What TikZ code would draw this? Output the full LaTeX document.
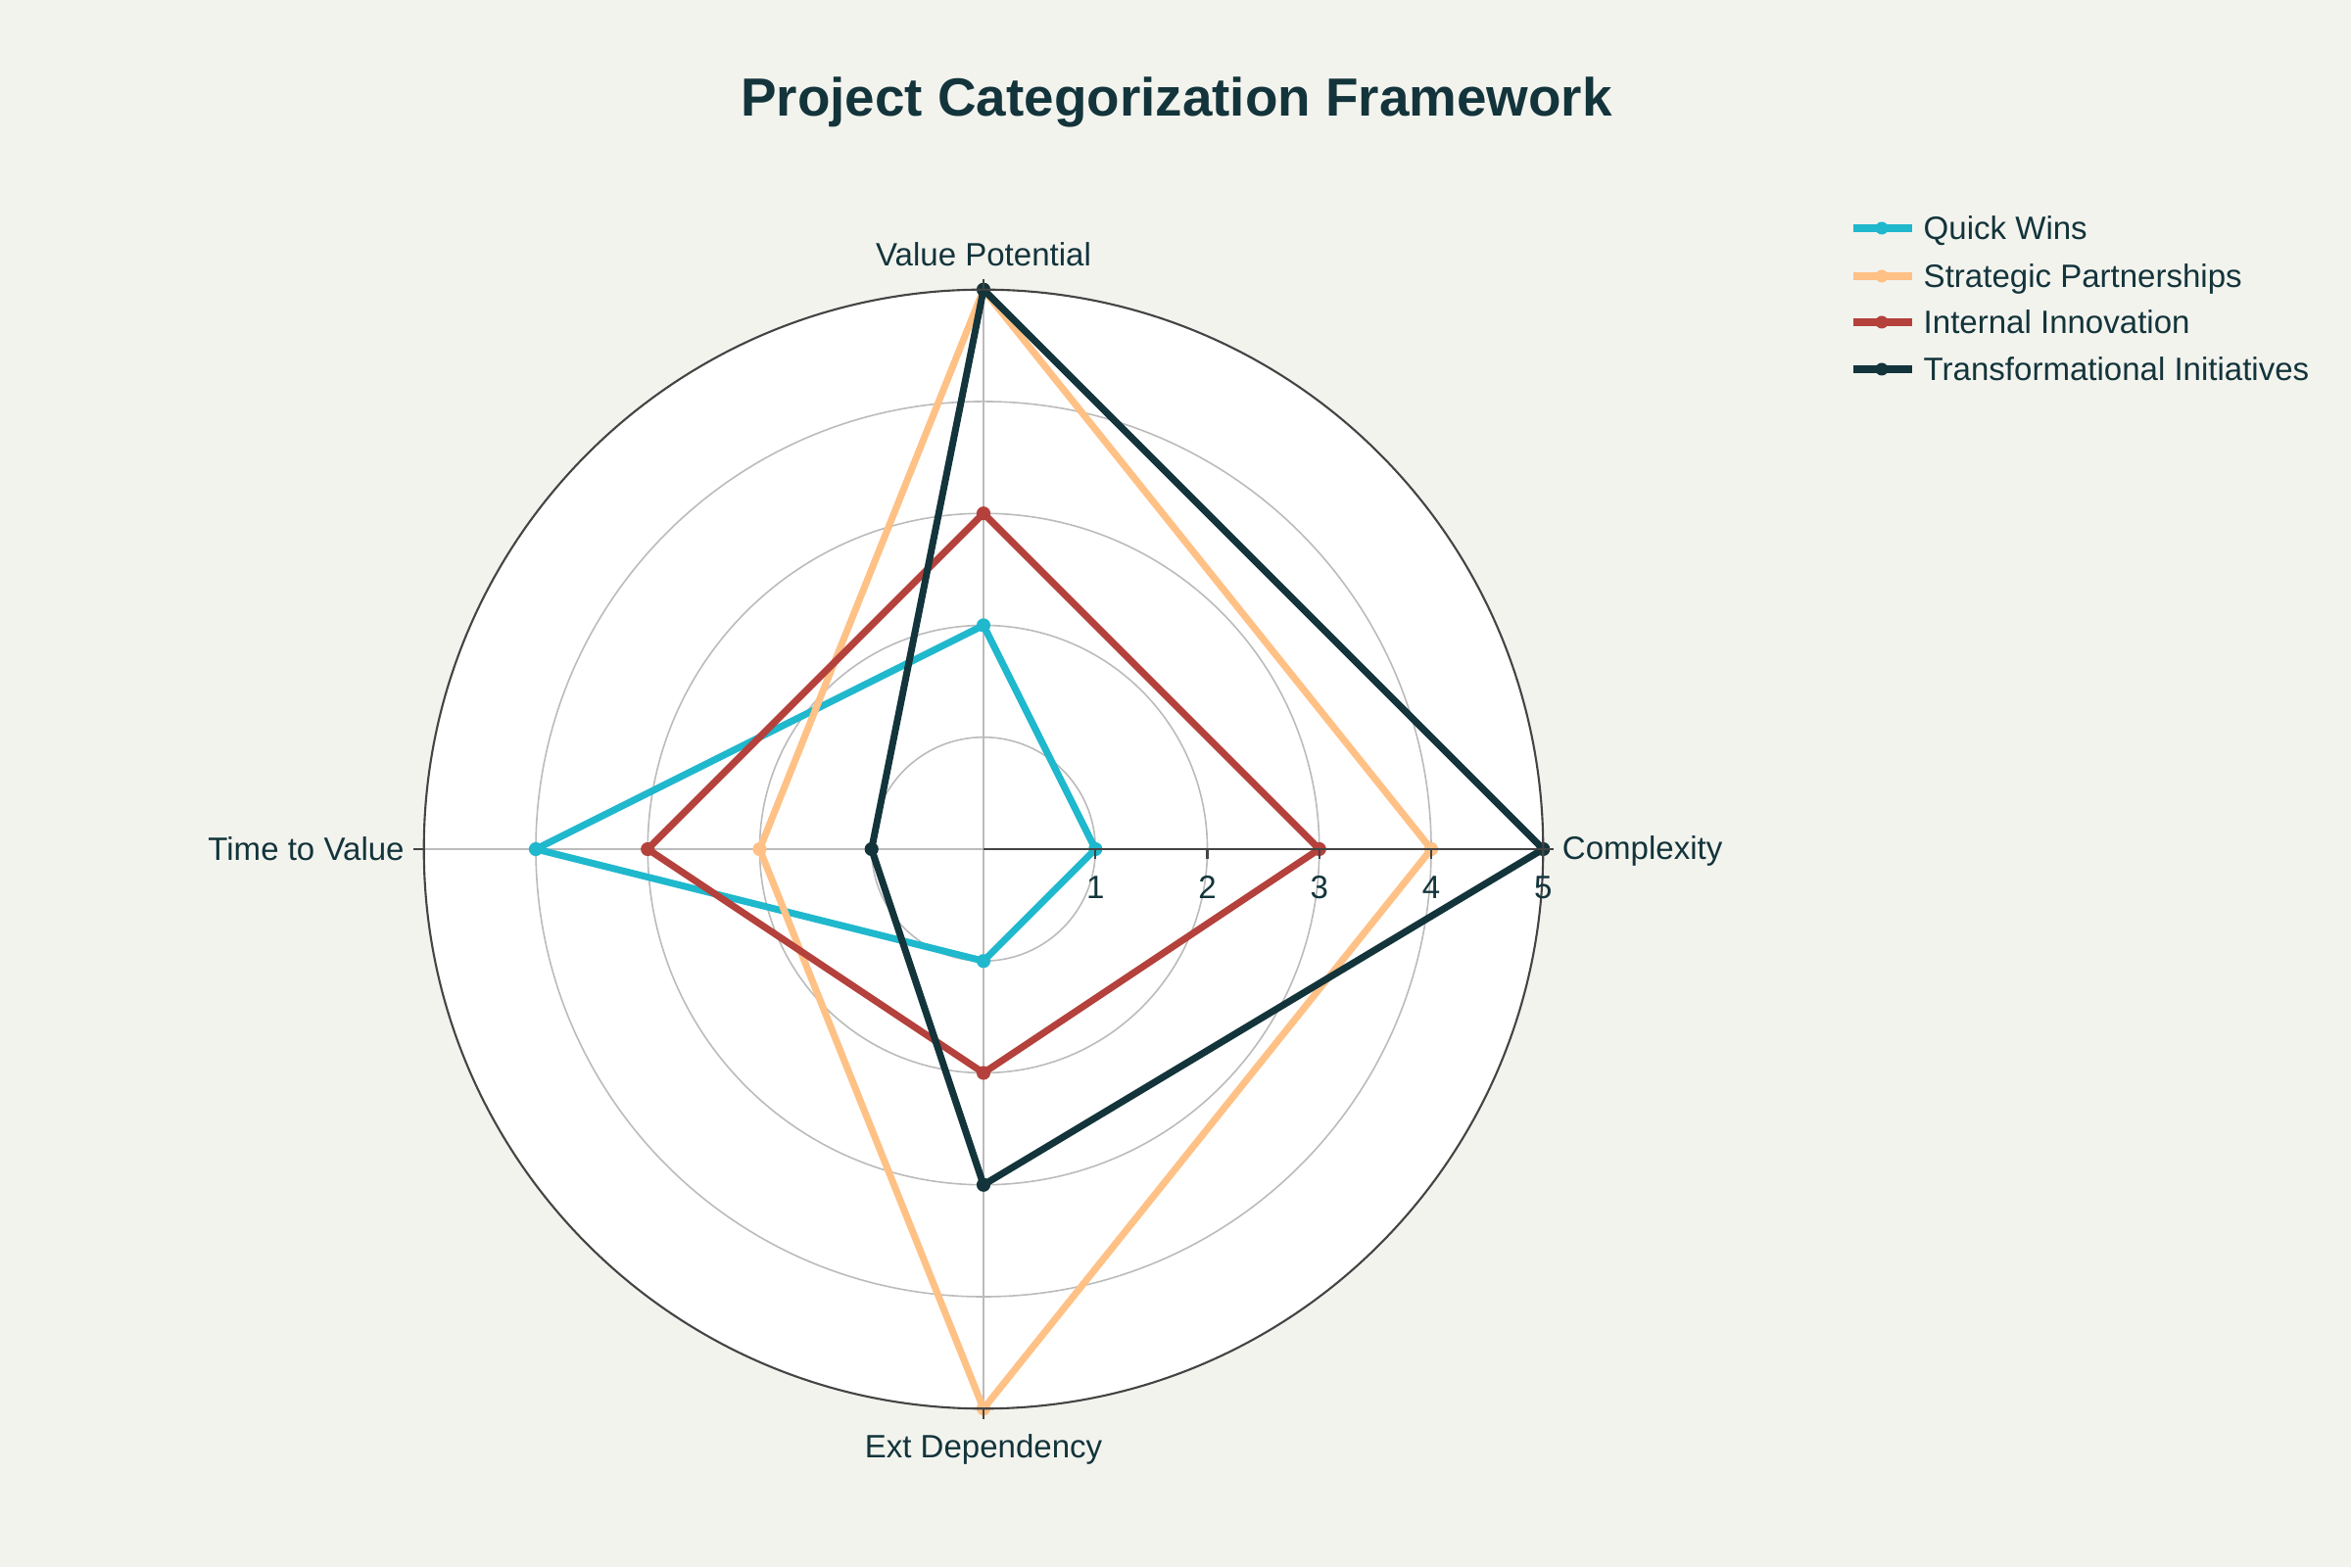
\documentclass[tikz,border=0pt]{standalone}
\usepackage{fontspec}
\setmainfont{Liberation Sans}
\usepackage{xcolor}
\usetikzlibrary{positioning}

\definecolor{bgcol}{HTML}{F3F3EE}
\definecolor{txtcol}{HTML}{13343B}
\definecolor{qwcol}{HTML}{1FB8CD}
\definecolor{spcol}{HTML}{FFC185}
\definecolor{iicol}{HTML}{B4413C}
\definecolor{ticol}{HTML}{13343B}
\definecolor{gridcol}{HTML}{BBBBBB}
\definecolor{axiscol}{HTML}{444444}

\begin{document}
\begin{tikzpicture}[
    every node/.style={font=\fontsize{9.4}{11}\selectfont, text=txtcol, inner sep=0pt},
    gridline/.style={gridcol, line width=0.45pt},
    axisline/.style={axiscol, line width=0.6pt},
    series/.style={line width=2pt, line join=round},
    legline/.style={line width=2.2pt}
]

% --- Canvas ---
\fill[bgcol] (0,0) rectangle (24,16);
\useasboundingbox (0,0) rectangle (24,16);

% --- Title ---
\node[font=\bfseries\fontsize{15.6}{19}\selectfont, anchor=base] (title) at (12.01,14.81) {Project Categorization Framework};

% --- Polar grid ---
\begin{scope}[shift={(10.04,7.33)}, x=1.1426cm, y=1.1426cm]
\coordinate (o) at (0,0);
\fill[white] (o) circle (5);
\foreach \r in {1,...,4}
    \draw[gridline] (o) circle (\r);
\foreach \a in {90,180,270}
    \draw[gridline] (o) -- (\a:5);

% --- Series (complexity, value, time, ext dependency) ---
\foreach \col/\a/\b/\c/\d in {qwcol/1/2/4/1, spcol/4/5/2/5, iicol/3/3/3/2, ticol/5/5/1/3} {
    \draw[series, \col] (0:\a) -- (90:\b) -- (180:\c) -- (270:\d) -- cycle;
    \foreach \p/\ang in {\a/0, \b/90, \c/180, \d/270}
        \fill[\col] (\ang:\p) circle (0.062);
}

% outer ring and radial axis on top
\draw[axisline] (o) circle (5);
\foreach \a in {0,90,180,270}
    \draw[axisline] (\a:5) -- (\a:5.09);
\draw[axisline] (o) -- (0:5);
\foreach \r in {1,...,5} {
    \draw[axisline] (\r,0) -- (\r,-0.09);
    \node[anchor=base] (tick\r) at (\r,-0.44) {\r};
}

% --- Axis labels ---
\node[anchor=base] (lbl_value) at (0,5.21) {Value Potential};
\node[anchor=base west] (lbl_complex) at (5.166,-0.09) {Complexity};
\node[anchor=base east] (lbl_time) at (-5.17,-0.1) {Time to Value};
\node[anchor=base] (lbl_ext) at (0,-5.438) {Ext Dependency};
\end{scope}

% --- Legend ---
\foreach \col/\txt/\y [count=\i] in {qwcol/Quick Wins/13.67, spcol/Strategic Partnerships/13.18, iicol/Internal Innovation/12.71, ticol/Transformational Initiatives/12.23} {
    \coordinate (leg\i_a) at (18.92,\y);
    \coordinate (leg\i_b) at (19.52,\y);
    \draw[legline, \col] (leg\i_a) -- (leg\i_b);
    \fill[\col] (19.21,\y) circle (0.065);
    \node[anchor=base west] (leg\i) at (19.63,\y-0.12) {\txt};
}

\end{tikzpicture}
\end{document}
